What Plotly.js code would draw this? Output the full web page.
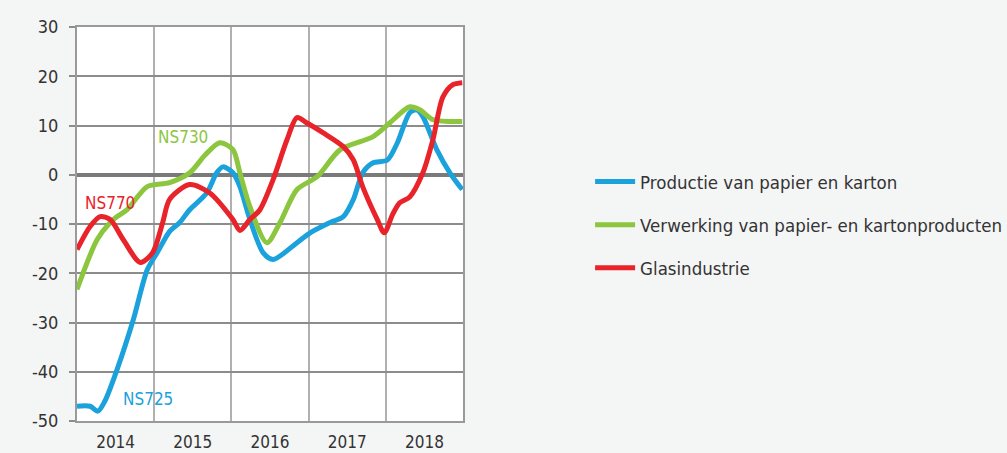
<!DOCTYPE html>
<html>
<head>
<meta charset="utf-8">
<script src="https://cdn.plot.ly/plotly-3.0.1.min.js"></script>
<style>html,body{margin:0;padding:0;background:#f4f5f5;}#chart{width:1007px;height:453px;}</style>
</head>
<body>
<div id="chart"></div>
<script>
// Series names
const seriesNames = ["Productie van papier en karton", "Verwerking van papier- en kartonproducten", "Glasindustrie"];
const seriesCodes = ["NS725", "NS730", "NS770"];

// Productie van papier en karton (NS725)
const blueX = [2014.00,2014.17,2014.27,2014.36,2014.52,2014.73,2014.91,2015.04,2015.20,2015.33,2015.46,2015.68,2015.81,2015.89,2016.02,2016.11,2016.24,2016.41,2016.54,2016.85,2017.02,2017.28,2017.45,2017.58,2017.70,2017.83,2018.02,2018.15,2018.31,2018.40,2018.48,2018.66,2018.83,2018.99];
const blueY = [-47,-47,-48,-46,-39.5,-29.4,-19.3,-15.8,-11.5,-9.7,-7.1,-3.7,0.4,1.6,0.4,-2.4,-9.1,-15.8,-17.2,-13.8,-11.8,-9.7,-8.5,-5,0.4,2.4,3,6.5,12.6,13.2,11.8,5.1,0.4,-3];

// Verwerking van papier- en kartonproducten (NS730)
const greenX = [2014.00,2014.26,2014.43,2014.52,2014.65,2014.91,2015.20,2015.46,2015.66,2015.85,2016.02,2016.11,2016.24,2016.46,2016.63,2016.85,2017.11,2017.41,2017.83,2018.05,2018.31,2018.44,2018.61,2018.99];
const greenY = [-23.3,-13.2,-9.7,-8.5,-7.1,-2.4,-1.6,0.4,4,6.5,5.1,0.4,-6.5,-13.8,-9.7,-3,-0.4,5.1,7.7,10.5,13.8,13.2,11.2,10.8];

// Glasindustrie (NS770)
const redX = [2014.00,2014.17,2014.30,2014.43,2014.60,2014.82,2014.98,2015.11,2015.20,2015.46,2015.72,2016.02,2016.11,2016.24,2016.37,2016.54,2016.72,2016.85,2016.98,2017.19,2017.45,2017.58,2017.70,2017.89,2017.98,2018.09,2018.18,2018.31,2018.48,2018.61,2018.74,2018.87,2018.99];
const redY = [-15.2,-10.5,-8.5,-9.1,-13.2,-17.8,-15.8,-9.7,-5,-2,-3.7,-9.1,-11.3,-9.1,-7.1,-1,7.1,11.6,10.5,8.5,5.7,3,-2.4,-9.1,-11.8,-8,-5.7,-4.5,0.4,7.1,15.8,18.3,18.7];

// Axis labels
const yearTickVals = [2014.5, 2015.5, 2016.5, 2017.5, 2018.5];
const yearTickText = ["2014", "2015", "2016", "2017", "2018"];
const yTickVals = [-50, -40, -30, -20, -10, 0, 10, 20, 30];
const yTickText = ["-50", "-40", "-30", "-20", "-10", "0", "10", "20", "30"];

const colors = ["#1ba1dc", "#8cc63f", "#e8232a"];
const FONT = "DejaVu Sans Condensed, Liberation Sans Narrow, sans-serif";

const xs = [blueX, greenX, redX];
const ys = [blueY, greenY, redY];

const traces = xs.map((x, i) => ({
  x: x, y: ys[i], type: "scatter", mode: "lines",
  name: seriesNames[i], legendgroup: "g" + i,
  line: {color: colors[i], width: 5, shape: "spline", smoothing: 0.8},
  hoverinfo: "x+y+name"
}));

const labelPos = [
  {x: 2014.92, y: -45.6},
  {x: 2015.37, y: 7.7},
  {x: 2014.43, y: -5.7}
];
const annotations = labelPos.map((p, i) => ({
  x: p.x, y: p.y, xref: "x", yref: "y", text: seriesCodes[i], showarrow: false,
  font: {family: FONT, size: 17, color: colors[i]}
}));

const layout = {
  width: 1007, height: 453,
  paper_bgcolor: "#f4f5f5", plot_bgcolor: "#ffffff",
  margin: {l: 77, r: 544, t: 27, b: 32, autoexpand: false},
  font: {family: FONT, size: 16, color: "#333333"},
  showlegend: true,
  legend: {xref: "container", yref: "container", x: 0.586, xanchor: "left", y: 0.64, yanchor: "top",
    bgcolor: "rgba(0,0,0,0)", tracegroupgap: 16, itemwidth: 40,
    font: {family: FONT, size: 18.5, color: "#333333"}},
  xaxis: {
    range: [2014, 2019], tickmode: "array", tickvals: yearTickVals, ticktext: yearTickText,
    showgrid: false, ticks: "", zeroline: false, ticklabelstandoff: 5, automargin: false,
    showline: true, linecolor: "#9a9a9a", linewidth: 2, mirror: true,
    minor: {tick0: 2014, dtick: 1, showgrid: true, gridcolor: "#b0b0b0", gridwidth: 2, ticks: ""},
    tickfont: {size: 17, color: "#333333"}, fixedrange: true
  },
  yaxis: {
    range: [-50, 30], tickmode: "array", tickvals: yTickVals, ticktext: yTickText,
    showgrid: true, gridcolor: "#8c8c8c", gridwidth: 2, ticklabelstandoff: 7, automargin: false,
    ticks: "outside", ticklen: 6, tickwidth: 2, tickcolor: "#8c8c8c",
    zeroline: true, zerolinecolor: "#7a7a7a", zerolinewidth: 4,
    showline: true, linecolor: "#9a9a9a", linewidth: 2, mirror: true,
    tickfont: {size: 18, color: "#333333"}, fixedrange: true
  },
  annotations: annotations
};

Plotly.newPlot("chart", traces, layout, {displayModeBar: false, staticPlot: true});
</script>
</body>
</html>
